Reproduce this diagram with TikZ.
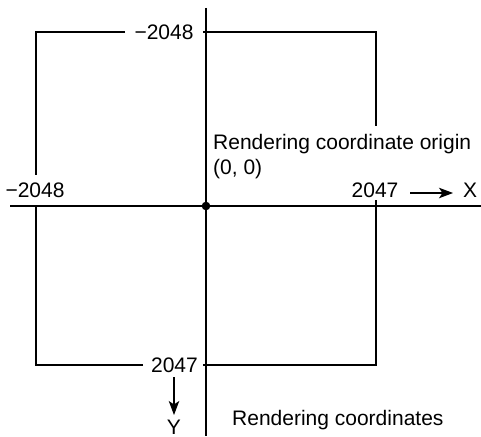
\documentclass[tikz,border=0pt]{standalone}
\usepackage{fontspec}
\setmainfont{Liberation Sans}
\usetikzlibrary{arrows.meta}
\begin{document}
\begin{tikzpicture}[x=1pt,y=-1pt,
  line/.style={line width=1.3pt, black},
  lbl/.style={inner sep=0pt, anchor=base, font=\fontsize{21}{24}\selectfont},
  arr/.style={line width=1.1pt, black, -{Stealth[length=14pt,width=10.5pt,inset=3.5pt]}}]
\useasboundingbox (0,0) rectangle (481,436);
% corners
\coordinate (tl) at (36,32);
\coordinate (tr) at (376,32);
\coordinate (bl) at (36,365);
\coordinate (br) at (376,365);
\coordinate (o) at (206,206);
% labels
\node[lbl] (tlab) at (164,39.5) {−2048};
\node[lbl] (blab) at (174.5,372.5) {2047};
\node[lbl] (llab) at (35,197.5) {−2048};
\node[lbl] (rlab) at (375,197.5) {2047};
\node[lbl] (xl) at (470,197.5) {X};
\node[lbl] (yl) at (174,434.5) {Y};
\node[lbl, anchor=base west] (orig) at (213,149.5) {Rendering coordinate origin};
\node[lbl, anchor=base west] (zero) at (213,174.5) {(0, 0)};
\node[lbl, anchor=base west] (rc) at (232,425) {Rendering coordinates};
% square with gaps
\coordinate (t1) at (125,32);
\coordinate (t2) at (203,32);
\coordinate (b1) at (143,365);
\coordinate (b2) at (203,365);
\coordinate (l1) at (36,175);
\coordinate (l2) at (36,206);
\coordinate (r1) at (376,126);
\coordinate (r2) at (376,200);
\draw[line] (t1) -- (tl) -- (l1);
\draw[line] (t2) -- (tr) -- (r1);
\draw[line] (b1) -- (bl) -- (l2);
\draw[line] (b2) -- (br) -- (r2);
% axes
\coordinate (xa) at (10,206);
\coordinate (xb) at (481,206);
\coordinate (ya) at (206,8);
\coordinate (yb) at (206,436);
\draw[line] (xa) -- (xb);
\draw[line] (ya) -- (yb);
\fill (o) circle (4.3);
% direction arrows
\coordinate (xs) at (410,193);
\coordinate (xe) at (453,193);
\coordinate (ys) at (174,377);
\coordinate (ye) at (174,415);
\draw[arr] (xs) -- (xe);
\draw[arr] (ys) -- (ye);
\end{tikzpicture}
\end{document}
